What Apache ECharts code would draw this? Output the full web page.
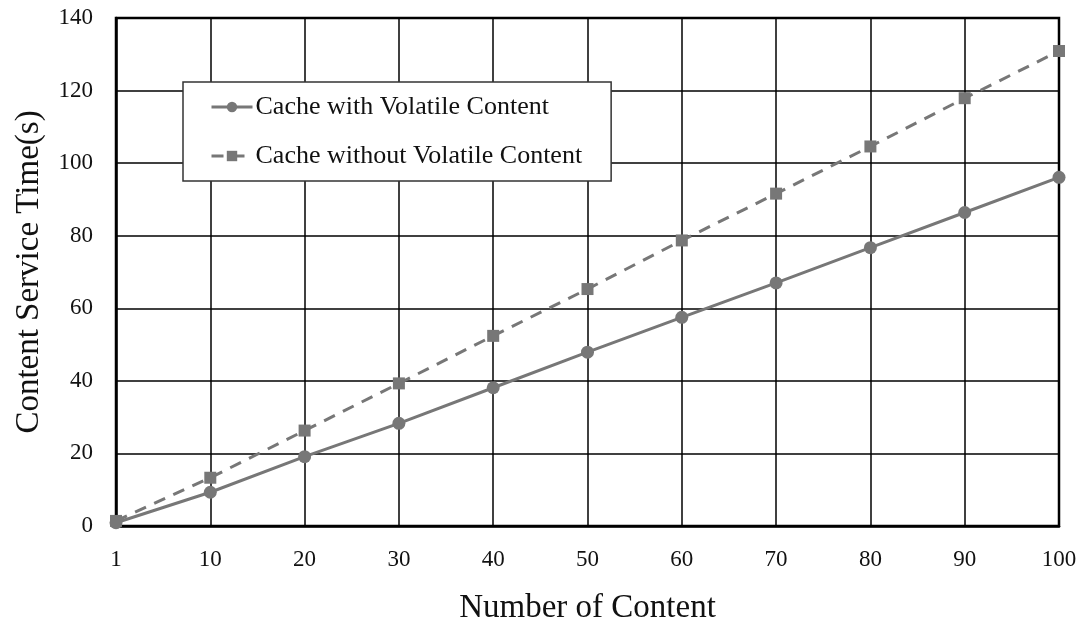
<!DOCTYPE html>
<html><head><meta charset="utf-8">
<script src="https://cdn.jsdelivr.net/npm/echarts@6/dist/echarts.min.js"></script>
<style>html,body{margin:0;padding:0;background:#fff}#c{width:1083px;height:621px}</style>
</head><body><div id="c"></div>
<script>
const categories = ['1','10','20','30','40','50','60','70','80','90','100'];
const withVolatile = [0.9, 9.3, 19.1, 28.3, 38.1, 47.9, 57.5, 67.0, 76.7, 86.4, 96.1];
const withoutVolatile = [1.4, 13.3, 26.3, 39.3, 52.4, 65.3, 78.7, 91.6, 104.6, 117.9, 130.9];
const seriesNames = ['Cache with Volatile Content', 'Cache without Volatile Content'];

const chart = echarts.init(document.getElementById('c'));
const font = '"Liberation Serif", "DejaVu Serif", serif';
chart.setOption({
  animation: false,
  backgroundColor: '#fff',
  grid: { left: 116, right: 24, top: 18, bottom: 95, outerBoundsMode: 'none', containLabel: false,
          show: true, borderColor: '#000', borderWidth: 2.5 },
  legend: {
    orient: 'vertical', left: 183, top: 82,
    padding: [12, 29, 12, 27],
    backgroundColor: '#fff', borderColor: '#333', borderWidth: 1.5,
    itemWidth: 41, itemHeight: 13, itemGap: 23,
    lineStyle: { width: 3 },
    textStyle: { fontFamily: font, fontSize: 26, color: '#111', padding: [0, 0, 0, -2] },
    data: seriesNames
  },
  xAxis: {
    type: 'category', data: categories, boundaryGap: false,
    name: 'Number of Content', nameLocation: 'middle', nameGap: 66,
    nameTextStyle: { fontFamily: font, fontSize: 33, color: '#111' },
    axisLine: { lineStyle: { color: '#000', width: 2.5 } },
    axisTick: { show: false },
    axisLabel: { fontFamily: font, fontSize: 23, color: '#111', margin: 22 },
    splitLine: { show: true, lineStyle: { color: '#000', width: 1.5 } }
  },
  yAxis: {
    type: 'value', min: 0, max: 140, interval: 20,
    name: 'Content Service Time(s)', nameLocation: 'middle', nameGap: 70,
    nameTextStyle: { fontFamily: font, fontSize: 33, color: '#111' },
    axisLine: { show: true, lineStyle: { color: '#000', width: 2.5 } },
    axisTick: { show: false },
    axisLabel: { fontFamily: font, fontSize: 23, color: '#111', margin: 23 },
    splitLine: { show: true, lineStyle: { color: '#000', width: 1.5 } }
  },
  series: [
    { name: seriesNames[0], type: 'line', data: withVolatile,
      symbol: 'circle', symbolSize: 13,
      lineStyle: { color: '#777', width: 3 }, itemStyle: { color: '#777' } },
    { name: seriesNames[1], type: 'line', data: withoutVolatile,
      symbol: 'rect', symbolSize: 12,
      lineStyle: { color: '#777', width: 3, type: [12, 9] }, itemStyle: { color: '#777' } }
  ]
});
</script></body></html>
